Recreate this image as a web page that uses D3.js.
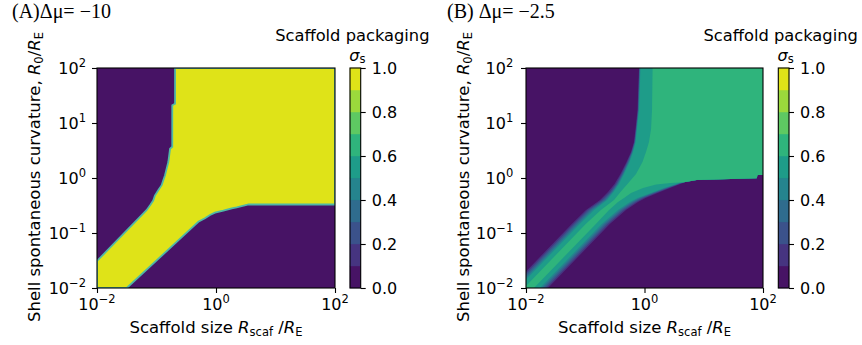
<!DOCTYPE html>
<html>
<head>
<meta charset="utf-8">
<script src="https://cdn.jsdelivr.net/npm/d3@7"></script>
<style>
body { margin: 0; background: #fff; }
text { font-family: "DejaVu Sans", sans-serif; fill: #000; }
.serif { font-family: "Liberation Serif", "Times New Roman", serif; }
</style>
</head>
<body>
<svg id="chart" width="862" height="345"></svg>
<script>
// contour levels of sigma_s (filled bands between them)
var levels = [0, 0.1, 0.2, 0.3, 0.4, 0.5, 0.6, 0.7, 0.8, 0.9, 1.0];
var cbTicks = [0, 0.2, 0.4, 0.6, 0.8, 1.0];
var xTicks = [0.01, 1, 100];
var yTicks = [0.01, 0.1, 1, 10, 100];

// Panel A (dmu = -10): packaged region, points are [R_scaf, R_0]
// upper-left edge, from left side up to the top
var upperA = [[0.01, 0.031], [0.068, 0.26], [0.078, 0.32], [0.088, 0.39], [0.094, 0.48],
  [0.107, 0.60], [0.122, 0.74], [0.130, 0.91], [0.139, 1.12], [0.148, 1.48], [0.158, 1.95],
  [0.169, 3.4], [0.184, 3.7], [0.184, 21], [0.205, 22.4], [0.205, 100]];
// lower-right edge, from bottom side to the right side
var lowerA = [[0.0316, 0.01], [0.444, 0.140], [0.505, 0.160], [0.653, 0.185], [0.793, 0.212],
  [0.962, 0.234], [1.33, 0.254], [1.84, 0.281], [2.23, 0.293], [3.28, 0.323], [3.49, 0.330],
  [100, 0.330]];

// Panel B (dmu = -2.5): one contour per level, upper-left and lower-right edges
var upper01B = [[0.01, 0.0200], [0.0593, 0.146], [0.103, 0.262], [0.178, 0.398], [0.242, 0.556], [0.312, 0.778], [0.393, 1.18], [0.497, 1.95], [0.592, 2.97], [0.665, 4.51], [0.705, 7.78], [0.762, 17.2], [0.808, 100]];
var upper02B = [[0.01, 0.0184], [0.0641, 0.146], [0.111, 0.262], [0.192, 0.398], [0.262, 0.556], [0.330, 0.778], [0.409, 1.18], [0.512, 1.95], [0.604, 2.97], [0.675, 4.51], [0.716, 7.78], [0.774, 17.2], [0.817, 100]];
var upper03B = [[0.01, 0.0168], [0.0692, 0.146], [0.120, 0.262], [0.207, 0.398], [0.277, 0.556], [0.344, 0.778], [0.425, 1.18], [0.527, 1.95], [0.615, 2.97], [0.686, 4.51], [0.727, 7.78], [0.786, 17.2], [0.827, 100]];
var upper04B = [[0.01, 0.0155], [0.0749, 0.146], [0.130, 0.262], [0.220, 0.398], [0.288, 0.556], [0.357, 0.778], [0.437, 1.18], [0.543, 1.95], [0.627, 2.97], [0.697, 4.51], [0.736, 7.78], [0.795, 17.2], [0.840, 100]];
var upper05B = [[0.01, 0.0142], [0.0809, 0.146], [0.141, 0.262], [0.233, 0.398], [0.300, 0.556], [0.371, 0.778], [0.451, 1.18], [0.558, 1.95], [0.640, 2.97], [0.708, 4.51], [0.747, 7.78], [0.808, 17.2], [0.856, 100]];
var upper06B = [[0.01, 0.0109], [0.102, 0.146], [0.184, 0.262], [0.306, 0.398], [0.393, 0.556], [0.516, 0.778], [0.719, 1.18], [0.925, 1.95], [1.06, 2.97], [1.19, 4.51], [1.29, 7.78], [1.34, 17.2], [1.37, 100]];

// all levels share the same edge in the horizontal arm
var tailB = [[4.64, 0.839], [7.60, 0.920], [78.3, 0.988], [80.8, 1.134], [100, 1.134]];
var lower01B = [[0.0235, 0.01], [0.260, 0.146], [0.487, 0.262], [0.777, 0.366], [1.040, 0.433], [1.657, 0.534], [2.694, 0.658], [3.822, 0.762], [4.465, 0.811]].concat(tailB);
var lower02B = [[0.0218, 0.01], [0.240, 0.146], [0.451, 0.262], [0.719, 0.366], [0.962, 0.433], [1.533, 0.534], [2.542, 0.658], [3.676, 0.762], [4.295, 0.811]].concat(tailB);
var lower03B = [[0.0201, 0.01], [0.222, 0.146], [0.417, 0.262], [0.665, 0.366], [0.890, 0.433], [1.446, 0.534], [2.398, 0.658], [3.536, 0.762], [4.130, 0.811]].concat(tailB);
var lower04B = [[0.0186, 0.01], [0.206, 0.146], [0.386, 0.262], [0.615, 0.366], [0.824, 0.433], [1.365, 0.534], [2.262, 0.658], [3.401, 0.762], [3.973, 0.811]].concat(tailB);
var lower05B = [[0.0172, 0.01], [0.190, 0.146], [0.357, 0.262], [0.569, 0.366], [0.762, 0.433], [1.287, 0.534], [2.134, 0.658], [3.272, 0.762], [3.822, 0.811]].concat(tailB);
var lower06B = [[0.0136, 0.01], [0.151, 0.146], [0.252, 0.262], [0.357, 0.366], [0.451, 0.433], [0.592, 0.534], [0.944, 0.658], [1.564, 0.762], [2.768, 0.811]].concat(tailB);

var contoursA = [{level: 0.9, upper: upperA, lower: lowerA}];
var contoursB = [
  {level: 0.1, upper: upper01B, lower: lower01B},
  {level: 0.2, upper: upper02B, lower: lower02B},
  {level: 0.3, upper: upper03B, lower: lower03B},
  {level: 0.4, upper: upper04B, lower: lower04B},
  {level: 0.5, upper: upper05B, lower: lower05B},
  {level: 0.6, upper: upper06B, lower: lower06B}
];

var svg = d3.select("#chart");
var plotTop = 68, plotBottom = 288, cbW = 10.7;

var panels = [
  {id: "A", tag: "(A)", dmu: "Δμ= −10", contours: contoursA, edge: "#4fb8a6",
   x0: 97, x1: 335, cbX: 350, yTickX: 86, yLabelX: 39.5, titleX: 12},
  {id: "B", tag: "(B) ", dmu: "Δμ= −2.5", contours: contoursB, edge: null,
   x0: 526, x1: 763, cbX: 778.3, yTickX: 513.3, yLabelX: 468.5, titleX: 447}
];

function bandColor(lv) { return d3.interpolateViridis(lv + 0.05); }

function powLabel(sel, v) {
  var e = Math.round(Math.log10(v));
  sel.append("tspan").text("10");
  sel.append("tspan").attr("dy", -7).attr("font-size", 11.5)
    .text(e < 0 ? "\u2212" + (-e) : e);
}

panels.forEach(function(p) {
  var x = d3.scaleLog().domain([0.01, 100]).range([p.x0, p.x1]);
  var y = d3.scaleLog().domain([0.01, 100]).range([plotBottom, plotTop]);
  var g = svg.append("g");

  svg.append("clipPath").attr("id", "clip" + p.id)
    .append("rect")
    .attr("x", p.x0).attr("y", plotTop)
    .attr("width", p.x1 - p.x0).attr("height", plotBottom - plotTop);

  var plot = g.append("g").attr("clip-path", "url(#clip" + p.id + ")");
  plot.append("rect")
    .attr("x", p.x0).attr("y", plotTop)
    .attr("width", p.x1 - p.x0).attr("height", plotBottom - plotTop)
    .attr("fill", bandColor(0));

  var line = d3.line().x(function(d) { return x(d[0]); }).y(function(d) { return y(d[1]); });

  p.contours.forEach(function(c) {
    var ring = c.upper.concat([[100, 100]], c.lower.slice().reverse(), [[0.01, 0.01]]);
    plot.append("path")
      .attr("d", line(ring) + "Z")
      .attr("fill", bandColor(c.level))
      .attr("stroke", p.edge || "none")
      .attr("stroke-width", p.edge ? 1.8 : 0);
  });

  // ticks
  g.append("g").attr("transform", "translate(0," + plotBottom + ")")
    .call(d3.axisBottom(x).tickValues(xTicks).tickSize(5).tickSizeOuter(0).tickFormat(""))
    .call(function(a) { a.select(".domain").remove(); })
    .selectAll("line").attr("stroke", "#000").attr("stroke-width", 1.1);
  g.append("g").attr("transform", "translate(" + p.x0 + ",0)")
    .call(d3.axisLeft(y).tickValues(yTicks).tickSize(5).tickSizeOuter(0).tickFormat(""))
    .call(function(a) { a.select(".domain").remove(); })
    .selectAll("line").attr("stroke", "#000").attr("stroke-width", 1.1);

  g.append("rect")
    .attr("x", p.x0).attr("y", plotTop)
    .attr("width", p.x1 - p.x0).attr("height", plotBottom - plotTop)
    .attr("fill", "none").attr("stroke", "#000").attr("stroke-width", 1.1);

  g.selectAll(".xlab").data(xTicks).enter().append("text")
    .attr("x", function(d) { return x(d); })
    .attr("y", plotBottom + 22)
    .attr("text-anchor", "middle").attr("font-size", 16)
    .each(function(d) { powLabel(d3.select(this), d); });

  g.selectAll(".ylab").data(yTicks).enter().append("text")
    .attr("x", p.yTickX)
    .attr("y", function(d) { return y(d) + 5.8; })
    .attr("text-anchor", "end").attr("font-size", 16)
    .each(function(d) { powLabel(d3.select(this), d); });

  // axis labels
  var xl = g.append("text")
    .attr("x", (p.x0 + p.x1) / 2).attr("y", 332.7)
    .attr("text-anchor", "middle").attr("font-size", 16.5);
  xl.append("tspan").text("Scaffold size ");
  xl.append("tspan").attr("font-style", "italic").text("R");
  xl.append("tspan").attr("font-size", 11.5).attr("dy", 3).text("scaf");
  xl.append("tspan").attr("dy", -3).text(" /");
  xl.append("tspan").attr("font-style", "italic").text("R");
  xl.append("tspan").attr("font-size", 11.5).attr("dy", 3).text("E");

  var yl = g.append("text")
    .attr("transform", "translate(" + p.yLabelX + "," + ((plotTop + plotBottom) / 2 - 1) + ") rotate(-90)")
    .attr("text-anchor", "middle").attr("font-size", 16.5);
  yl.append("tspan").text("Shell spontaneous curvature, ");
  yl.append("tspan").attr("font-style", "italic").text("R");
  yl.append("tspan").attr("font-size", 11.5).attr("dy", 3).text("0");
  yl.append("tspan").attr("dy", -3).text("/");
  yl.append("tspan").attr("font-style", "italic").text("R");
  yl.append("tspan").attr("font-size", 11.5).attr("dy", 3).text("E");

  // panel title
  g.append("text").attr("class", "serif")
    .attr("x", p.titleX).attr("y", 17.5).attr("font-size", 20)
    .text(p.tag + p.dmu);

  // colour bar
  var cb = d3.scaleLinear().domain([0, 1]).range([plotBottom, plotTop]);
  var cbg = g.append("g");
  cbg.selectAll("rect").data(levels.slice(0, -1)).enter().append("rect")
    .attr("x", p.cbX).attr("width", cbW)
    .attr("y", function(d, i) { return cb(levels[i + 1]); })
    .attr("height", function(d, i) { return cb(d) - cb(levels[i + 1]); })
    .attr("fill", bandColor)
    .attr("stroke", bandColor).attr("stroke-width", 0.4);
  cbg.append("rect")
    .attr("x", p.cbX).attr("y", plotTop).attr("width", cbW).attr("height", plotBottom - plotTop)
    .attr("fill", "none").attr("stroke", "#000").attr("stroke-width", 1.1);
  var cba = g.append("g").attr("transform", "translate(" + (p.cbX + cbW) + ",0)")
    .call(d3.axisRight(cb).tickValues(cbTicks).tickSize(5).tickPadding(6).tickSizeOuter(0).tickFormat(d3.format(".1f")));
  cba.select(".domain").remove();
  cba.attr("font-size", 16);
  cba.selectAll("line").attr("stroke", "#000").attr("stroke-width", 1.1);

  var cx = p.cbX + cbW / 2;
  g.append("text").attr("x", cx - 3).attr("y", 41)
    .attr("text-anchor", "middle").attr("font-size", 16.3)
    .text("Scaffold packaging");
  var sg = g.append("text").attr("x", cx + 2).attr("y", 60.5)
    .attr("text-anchor", "middle").attr("font-size", 16);
  sg.append("tspan").attr("font-style", "italic").text("σ");
  sg.append("tspan").attr("font-size", 11.5).attr("dy", 2).text("s");
});
</script>
</body>
</html>
